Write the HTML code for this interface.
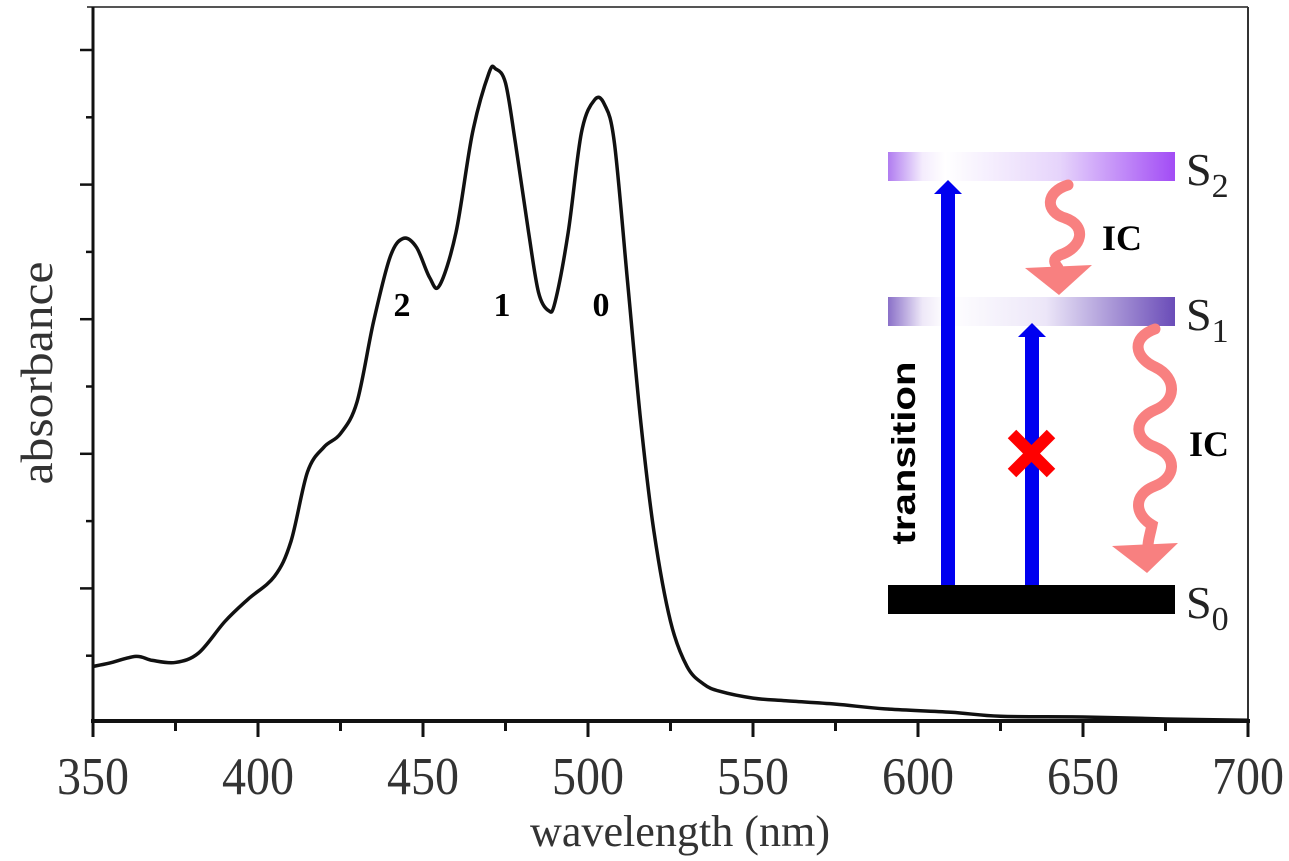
<!DOCTYPE html>
<html><head><meta charset="utf-8"><style>
html,body{margin:0;padding:0;background:#fff;}
svg{display:block;}
</style></head><body>
<svg id="chart" width="1289" height="861" viewBox="0 0 1289 861" xmlns="http://www.w3.org/2000/svg">
<defs>
<linearGradient id="gS2" x1="0" x2="1" y1="0" y2="0">
<stop offset="0" stop-color="#b07cf0"/><stop offset="0.12" stop-color="#f4ecfd"/><stop offset="0.2" stop-color="#fff"/><stop offset="0.6" stop-color="#e6d4fb"/><stop offset="1" stop-color="#a24cf5"/>
</linearGradient>
<linearGradient id="gS1" x1="0" x2="1" y1="0" y2="0">
<stop offset="0" stop-color="#8a70c8"/><stop offset="0.12" stop-color="#eee8f8"/><stop offset="0.2" stop-color="#fff"/><stop offset="0.55" stop-color="#ece6f8"/><stop offset="1" stop-color="#6a4cb8"/>
</linearGradient>
</defs>
<g id="axes"></g>
<g id="series"></g>
<g font-family="Liberation Serif, serif" font-weight="bold" font-size="34" text-anchor="middle">
<text x="402" y="316">2</text>
<text x="502" y="316">1</text>
<text x="601" y="316">0</text>
</g>
<text x="0" y="0" transform="translate(52,373) rotate(-90)" text-anchor="middle" font-family="Liberation Serif, serif" font-size="46" textLength="223" lengthAdjust="spacingAndGlyphs" fill="#333">absorbance</text>
<text x="680" y="846" text-anchor="middle" font-family="Liberation Serif, serif" font-size="44" textLength="300" lengthAdjust="spacingAndGlyphs" fill="#333">wavelength (nm)</text>

<g>
<rect x="888" y="152" width="287" height="29" fill="url(#gS2)"/>
<rect x="888" y="297" width="287" height="29" fill="url(#gS1)"/>
<rect x="888" y="585" width="287" height="29" fill="#000"/>
<g>
<rect x="941" y="192" width="14" height="393" fill="#0000f0"/>
<polygon points="934,194 948,180 962,194" fill="#0000f0"/>
</g>
<g>
<rect x="1025" y="336" width="14" height="249" fill="#0000f0"/>
<polygon points="1018,337 1032,323 1046,337" fill="#0000f0"/>
</g>
<g stroke="#f00" stroke-width="12">
<line x1="1012" y1="434" x2="1051" y2="473"/><line x1="1051" y1="434" x2="1012" y2="473"/>
</g>
<path d="M1068,185 C1045,192 1045,212 1065,218 C1088,226 1082,248 1060,255 C1050,260 1057,266 1058,268" fill="none" stroke="#f88080" stroke-width="11" stroke-linecap="round"/>
<polygon points="1025,268 1092,265 1059,295" fill="#f88080"/>
<path d="M1155,329 C1130,338 1135,358 1155,367 C1178,378 1176,402 1155,410 C1132,420 1135,440 1155,447 C1178,456 1176,478 1155,486 C1132,495 1135,515 1152,525 C1150,535 1148,540 1148,546" fill="none" stroke="#f88080" stroke-width="11" stroke-linecap="round"/>
<polygon points="1112,546 1178,543 1147,573" fill="#f88080"/>
<text x="1102" y="250" font-family="Liberation Serif, serif" font-weight="bold" font-size="36">IC</text>
<text x="1189" y="456" font-family="Liberation Serif, serif" font-weight="bold" font-size="36">IC</text>
<text transform="translate(915,453) rotate(-90)" text-anchor="middle" font-family="Liberation Sans, sans-serif" font-weight="bold" font-size="33" textLength="183" lengthAdjust="spacingAndGlyphs">transition</text>
<g font-family="Liberation Serif, serif" font-size="46" fill="#222">
<text x="1186" y="185">S<tspan font-size="34" dy="12">2</tspan></text>
<text x="1186" y="330">S<tspan font-size="34" dy="12">1</tspan></text>
<text x="1186" y="618">S<tspan font-size="34" dy="12">0</tspan></text>
</g>
</g>
</svg>
<script>
const wavelengths=[350,355,363,368,375,382,390,397,405,410,415,420,425,430,435,440,444,448,452,455,460,465,470,472,475,478,482,485,488,490,494,498,502,505,508,512,516,520,525,530,535,540,550,560,575,590,610,625,650,675,700];
const absorbance=[0.84,0.89,0.99,0.93,0.90,1.04,1.51,1.84,2.18,2.70,3.73,4.10,4.30,4.77,5.96,6.92,7.20,7.07,6.62,6.50,7.29,8.77,9.66,9.72,9.51,8.62,7.29,6.40,6.13,6.25,7.29,8.77,9.26,9.19,8.62,6.55,4.47,2.84,1.51,0.84,0.58,0.47,0.37,0.33,0.28,0.21,0.16,0.10,0.09,0.06,0.04];
const xTicks=[350,400,450,500,550,600,650,700];
const xMinorTicks=[375,425,475,525,575,625,675];
const yMajorTicks=[2,4,6,8,10];
const yMinorTicks=[1,3,5,7,9];
const NS='http://www.w3.org/2000/svg';
const X=w=>93+(w-350)*(1248-93)/350;
const Y=v=>723-v*67.3;
function mk(tag,attrs,parent){const e=document.createElementNS(NS,tag);for(const k in attrs)e.setAttribute(k,attrs[k]);parent.appendChild(e);return e;}
const axes=document.getElementById('axes');
let e=mk('line',{x1:87,y1:7,x2:1248,y2:7,stroke:'#555','stroke-width':2},axes);


e=mk('line',{x1:1248,y1:7,x2:1248,y2:722,stroke:'#333','stroke-width':2},axes);


e=mk('line',{x1:93,y1:7,x2:93,y2:722,stroke:'#111','stroke-width':3},axes);


e=mk('line',{x1:91,y1:721,x2:1250,y2:721,stroke:'#111','stroke-width':4},axes);


xTicks.forEach(t=>{
 const l=mk('line',{x1:X(t),y1:721,x2:X(t),y2:737,stroke:'#111','stroke-width':3},axes);
 
 
 const tx=mk('text',{x:X(t),y:794,'text-anchor':'middle','font-family':'Liberation Serif, serif','font-size':53,textLength:72,lengthAdjust:'spacingAndGlyphs',fill:'#333'},axes);
 tx.textContent=t;
 
 
});
xMinorTicks.forEach(t=>{
 const l=mk('line',{x1:X(t),y1:721,x2:X(t),y2:731,stroke:'#111','stroke-width':3},axes);
 
 
});
yMajorTicks.forEach(t=>{
 const l=mk('line',{x1:80,y1:Y(t),x2:93,y2:Y(t),stroke:'#111','stroke-width':2.5},axes);
 
 
});
yMinorTicks.forEach(t=>{
 const l=mk('line',{x1:86,y1:Y(t),x2:93,y2:Y(t),stroke:'#111','stroke-width':2.5},axes);
 
 
});
const pts=wavelengths.map((w,i)=>[X(w),Y(absorbance[i])]);
let d='M'+pts[0][0]+','+pts[0][1];
for(let i=0;i<pts.length-1;i++){
 const p0=pts[Math.max(0,i-1)],p1=pts[i],p2=pts[i+1],p3=pts[Math.min(pts.length-1,i+2)];
 const c1=[p1[0]+(p2[0]-p0[0])/6,p1[1]+(p2[1]-p0[1])/6];
 const c2=[p2[0]-(p3[0]-p1[0])/6,p2[1]-(p3[1]-p1[1])/6];
 d+=' C'+c1[0]+','+c1[1]+' '+c2[0]+','+c2[1]+' '+p2[0]+','+p2[1];
}
const path=mk('path',{d:d,fill:'none',stroke:'#111','stroke-width':3.5},document.getElementById('series'));


</script>
</body></html>
